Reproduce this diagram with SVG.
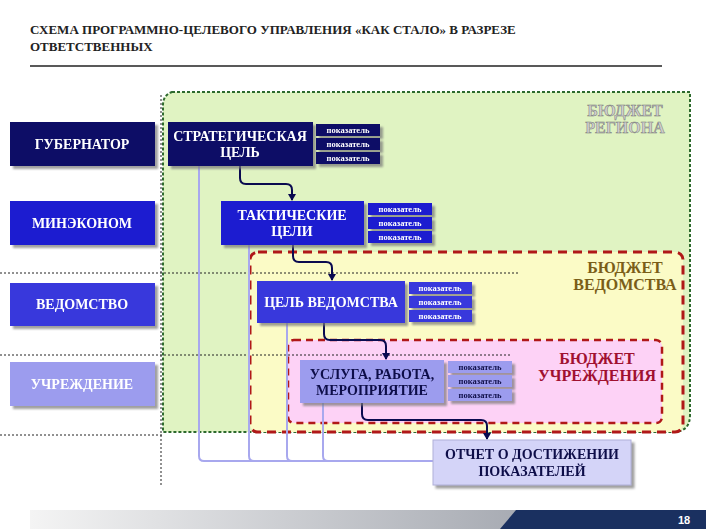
<svg xmlns="http://www.w3.org/2000/svg" width="706" height="529" viewBox="0 0 706 529" font-family="Liberation Serif, Times New Roman, serif" font-weight="bold">
<defs>
<linearGradient id="ft" x1="0" x2="1"><stop offset="0" stop-color="#f4f4f4"/><stop offset="1" stop-color="#8a8f9a"/></linearGradient>
<marker id="ar" markerWidth="8" markerHeight="8" refX="6" refY="4" orient="auto" markerUnits="userSpaceOnUse"><path d="M0,0 L7,4 L0,8 z" fill="#0a0a50"/></marker>
<filter id="sh" x="-10%" y="-10%" width="130%" height="140%"><feDropShadow dx="3" dy="3" stdDeviation="1" flood-color="#777" flood-opacity="0.7"/></filter>
</defs>
<style>
text{text-anchor:middle}
.t{font-size:14px;fill:#fff}
.i{font-size:8.5px;fill:#fff}
.n1{fill:#0b0b66}.n2{fill:#1c1cd0}.n3{fill:#3838dc}.n4{fill:#9c9cee}
.dot{stroke:#222;stroke-width:1;stroke-dasharray:2,2;fill:none}
.lv{stroke:#a8a8ee;stroke-width:2;fill:none}
.cn{stroke:#0a0a50;stroke-width:2;fill:none}
.bl{font-size:16px}
</style>
<rect width="706" height="529" fill="#fff"/>
<text x="30" y="34" font-size="13" fill="#222" style="text-anchor:start">СХЕМА ПРОГРАММНО-ЦЕЛЕВОГО УПРАВЛЕНИЯ «КАК СТАЛО» В РАЗРЕЗЕ</text>
<text x="30" y="51" font-size="13" fill="#222" style="text-anchor:start">ОТВЕТСТВЕННЫХ</text>
<line x1="30" y1="66" x2="662" y2="66" stroke="#222" stroke-width="1.5"/>
<g id="regions">
<path d="M172,92 H690 V415 Q690,432 673,432 H163 V105 Q163,95 172,92 z" fill="#e0f3c2" stroke="#2d6a2d" stroke-width="2" stroke-dasharray="3,2"/>
<rect x="250" y="252" width="433" height="180" rx="8" fill="#fbfbc6" stroke="#b01818" stroke-width="3" stroke-dasharray="9,6"/>
<rect x="288" y="340" width="374" height="83" rx="6" fill="#fdd2f6" stroke="#b01818" stroke-width="2.5" stroke-dasharray="7,5"/>
<text class="bl" x="625" y="116" fill="#cfcfcf" stroke="#777" stroke-width="0.5">БЮДЖЕТ</text>
<text class="bl" x="625" y="133" fill="#cfcfcf" stroke="#777" stroke-width="0.5">РЕГИОНА</text>
<text class="bl" x="625" y="273" fill="#7a5e18">БЮДЖЕТ</text>
<text class="bl" x="625" y="290" fill="#7a5e18">ВЕДОМСТВА</text>
<text class="bl" x="597" y="364" fill="#a01030">БЮДЖЕТ</text>
<text class="bl" x="597" y="381" fill="#a01030">УЧРЕЖДЕНИЯ</text>
</g>
<g id="guides">
<line class="dot" x1="161" y1="95" x2="161" y2="487"/>
<line class="dot" x1="0" y1="273" x2="520" y2="273"/>
<line class="dot" x1="0" y1="355" x2="510" y2="355"/>
<line class="dot" x1="0" y1="435" x2="163" y2="435"/>
</g>
<g id="connectors">
<path class="lv" d="M199,166 V456 Q199,461 204,461 H433"/>
<path class="lv" d="M249,245 V456 Q249,461 254,461"/>
<path class="lv" d="M287,323 V456 Q287,461 292,461"/>
<path class="lv" d="M323,403 V456 Q323,461 328,461"/>
<path class="cn" marker-end="url(#ar)" d="M240,166 V178 Q240,184 246,184 H286 Q292,184 292,190 V200"/>
<path class="cn" marker-end="url(#ar)" d="M293,245 V256 Q293,262 299,262 H326 Q332,262 332,268 V280"/>
<path class="cn" marker-end="url(#ar)" d="M324,323 V334 Q324,340 330,340 H380 Q386,340 386,346 V359"/>
<path class="cn" marker-end="url(#ar)" d="M362,403 V414 Q362,420 368,420 H481 Q487,420 487,426 V439"/>
</g>
<g id="gubernator" filter="url(#sh)"><rect class="n1" x="10" y="122" width="145" height="44"/><text class="t" x="82" y="149">ГУБЕРНАТОР</text></g>
<g id="minekonom" filter="url(#sh)"><rect class="n2" x="10" y="201" width="145" height="44"/><text class="t" x="82" y="228">МИНЭКОНОМ</text></g>
<g id="vedomstvo" filter="url(#sh)"><rect class="n3" x="10" y="283" width="145" height="43"/><text class="t" x="82" y="309">ВЕДОМСТВО</text></g>
<g id="uchrezhdenie" filter="url(#sh)"><rect class="n4" x="10" y="362" width="145" height="44"/><text class="t" x="82" y="389">УЧРЕЖДЕНИЕ</text></g>
<g id="strategic" filter="url(#sh)"><rect class="n1" x="168" y="122" width="145" height="44"/><text class="t" x="240" y="141">СТРАТЕГИЧЕСКАЯ</text><text class="t" x="240" y="157">ЦЕЛЬ</text>
<rect class="n1" x="316" y="124" width="64" height="12"/><rect class="n1" x="316" y="138" width="64" height="12"/><rect class="n1" x="316" y="152" width="64" height="12"/>
<text class="i" x="348" y="133">показатель</text><text class="i" x="348" y="147">показатель</text><text class="i" x="348" y="161">показатель</text></g>
<g id="tactical" filter="url(#sh)"><rect class="n2" x="221" y="201" width="143" height="44"/><text class="t" x="292" y="220">ТАКТИЧЕСКИЕ</text><text class="t" x="292" y="236">ЦЕЛИ</text>
<rect class="n2" x="368" y="203" width="64" height="12"/><rect class="n2" x="368" y="217" width="64" height="12"/><rect class="n2" x="368" y="231" width="64" height="12"/>
<text class="i" x="400" y="212">показатель</text><text class="i" x="400" y="226">показатель</text><text class="i" x="400" y="240">показатель</text></g>
<g id="goal-vedomstva" filter="url(#sh)"><rect class="n3" x="257" y="281" width="148" height="42"/><text class="t" x="331" y="307">ЦЕЛЬ ВЕДОМСТВА</text>
<rect class="n3" x="409" y="282" width="63" height="12"/><rect class="n3" x="409" y="296" width="63" height="12"/><rect class="n3" x="409" y="310" width="63" height="12"/>
<text class="i" x="440" y="291">показатель</text><text class="i" x="440" y="305">показатель</text><text class="i" x="440" y="319">показатель</text></g>
<g id="usluga" filter="url(#sh)"><rect class="n4" x="300" y="360" width="144" height="43"/><text class="t" x="372" y="379" style="fill:#10104a">УСЛУГА, РАБОТА,</text><text class="t" x="372" y="395" style="fill:#10104a">МЕРОПРИЯТИЕ</text>
<rect class="n4" x="448" y="361" width="64" height="12"/><rect class="n4" x="448" y="375" width="64" height="12"/><rect class="n4" x="448" y="389" width="64" height="12"/>
<text class="i" x="480" y="370" style="fill:#10104a">показатель</text><text class="i" x="480" y="384" style="fill:#10104a">показатель</text><text class="i" x="480" y="398" style="fill:#10104a">показатель</text></g>
<g id="otchet" filter="url(#sh)"><rect x="433" y="440" width="198" height="45" fill="#d4d4f8" stroke="#b0b0d8"/><text class="t" x="532" y="459" style="fill:#10104a">ОТЧЕТ О ДОСТИЖЕНИИ</text><text class="t" x="532" y="476" style="fill:#10104a">ПОКАЗАТЕЛЕЙ</text></g>
<g id="footer">
<rect x="30" y="510" width="676" height="19" fill="url(#ft)"/>
<path d="M500,529 L516,510 H706 V529 z" fill="#1a3060"/>
<text x="684" y="524" font-family="Liberation Sans, sans-serif" font-size="11" fill="#fff">18</text>
</g>
</svg>
